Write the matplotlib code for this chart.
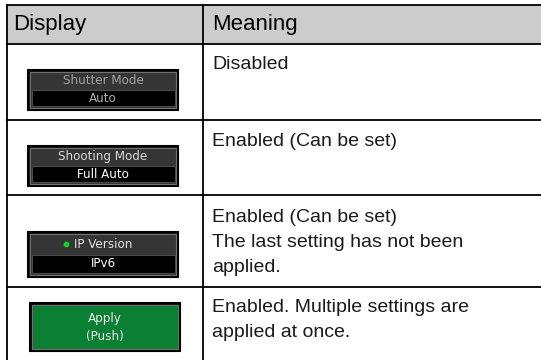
import matplotlib.pyplot as plt
from matplotlib.patches import Rectangle

# данные таблицы
headers = ["Display", "Meaning"]
display_top = ["Shutter Mode", "Shooting Mode", "IP Version", "Apply"]
display_bottom = ["Auto", "Full Auto", "IPv6", "(Push)"]
meanings = [
    "Disabled",
    "Enabled (Can be set)",
    "Enabled (Can be set)\nThe last setting has not been\napplied.",
    "Enabled. Multiple settings are\napplied at once.",
]

W, H = 541, 360
fig = plt.figure(figsize=(W / 100, H / 100), dpi=100)
ax = fig.add_axes([0, 0, 1, 1])
ax.set_xlim(0, W)
ax.set_ylim(H, 0)
ax.axis('off')

body_font = ['Liberation Sans', 'DejaVu Sans']
btn_font = ['DejaVu Sans']

left, right, top = 7, 545, 5
col = 203
row_lines = [44, 120, 195, 287]

# шапка
ax.add_patch(Rectangle((left, top), right - left, row_lines[0] - top,
                       facecolor='#cccccc', edgecolor='none'))
for y in [top] + row_lines:
    ax.plot([left, right], [y, y], color='black', lw=1.3)
ax.plot([left, left], [top, H + 5], color='black', lw=1.3)
ax.plot([col, col], [top, H + 5], color='black', lw=1.3)

ax.text(left + 6, 30, headers[0], fontsize=16, family=body_font, va='baseline')
ax.text(col + 9, 30, headers[1], fontsize=16, family=body_font, va='baseline')

# значения справа, по строкам
baselines = [69, 146, 222, 312]
for m, y in zip(meanings, baselines):
    for k, line in enumerate(m.split('\n')):
        ax.text(col + 9, y + k * 25, line, fontsize=14, family=body_font,
                va='baseline', color='#1a1a1a')

# кнопки
boxes = [(28, 70, 150, 40), (28, 146, 150, 40), (28, 232, 150, 45), (30, 303, 150, 48)]
top_colors = ['#a0a0a0', '#d8d8d8', '#e0e0e0', '#e8e8e8']
bottom_colors = ['#b0b0b0', '#ffffff', '#ffffff', '#e8e8e8']

for i, (x0, y0, w, h) in enumerate(boxes):
    green = display_top[i] == "Apply"
    face = '#0b7f33' if green else '#353535'
    ax.add_patch(Rectangle((x0, y0), w, h, facecolor='#111111', edgecolor='#000000', lw=1.5))
    ax.add_patch(Rectangle((x0 + 2, y0 + 2), w - 4, h - 4, facecolor=face,
                           edgecolor='#707070', lw=0.8))
    if green:
        ax.text(x0 + w / 2, y0 + h * 0.33, display_top[i], fontsize=9.5, family=btn_font,
                stretch='condensed', ha='center', va='center', color=top_colors[i])
        ax.text(x0 + w / 2, y0 + h * 0.7, display_bottom[i], fontsize=9.5, family=btn_font,
                stretch='condensed', ha='center', va='center', color=bottom_colors[i])
        continue
    mid = y0 + h * 0.5
    ax.add_patch(Rectangle((x0 + 3.5, mid), w - 7, h / 2 - 4, facecolor='#000000',
                           edgecolor='#4a4a4a', lw=0.8))
    label = display_top[i]
    ax.text(x0 + w / 2, y0 + h * 0.27, label, fontsize=9.5, family=btn_font,
            stretch='condensed', ha='center', va='center', color=top_colors[i])
    if label == "IP Version":
        ax.plot(x0 + w / 2 - 37, y0 + h * 0.27, 'o', ms=4.5, mfc='#22cc22', mec='#116611', mew=0.5)
    ax.text(x0 + w / 2, y0 + h * 0.5 + (h / 2 - 4) / 2, display_bottom[i], fontsize=9.5,
            family=btn_font, stretch='condensed', ha='center', va='center',
            color=bottom_colors[i])

fig.savefig('out.png', dpi=100)
